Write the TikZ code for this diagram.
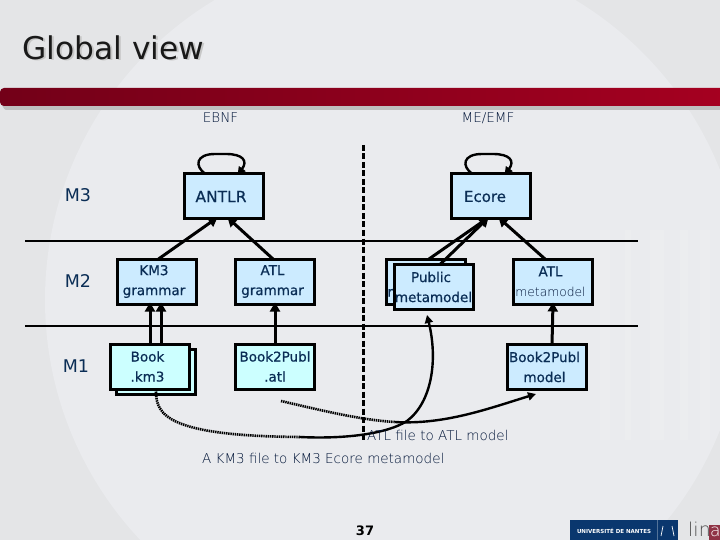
\documentclass[tikz,border=0pt]{standalone}
\usepackage{fontspec}
\setmainfont{DejaVu Sans}
\newfontfamily\thinfont{DejaVu Sans ExtraLight}
\newfontfamily\boxfont[FakeBold=0.6]{DejaVu Sans}
\usetikzlibrary{arrows.meta,calc}
\newcommand{\lb}[1]{#1\kern5pt}
\definecolor{ink}{RGB}{10,45,85}
\definecolor{thinink}{RGB}{0,20,55}
\definecolor{boxblue}{RGB}{204,235,255}
\definecolor{boxcyan}{RGB}{204,255,255}
\definecolor{bggrey}{RGB}{228,229,231}
\definecolor{globe}{RGB}{234,235,238}
\definecolor{barl}{RGB}{115,0,24}
\definecolor{barr}{RGB}{165,0,32}
\definecolor{navy}{RGB}{10,55,110}
\tikzset{
 x=1pt,y=-1pt,
 mbox/.style={draw=black,line width=3pt,fill=boxblue,minimum width=79pt,minimum height=45pt,inner sep=0pt,outer sep=0pt,align=center,text=ink,font=\boxfont\fontsize{13.5}{20}\selectfont},
 cbox/.style={mbox,fill=boxcyan},
 lvl/.style={text=ink,font=\fontsize{17.5}{20}\selectfont,inner sep=0pt},
 thin/.style={text=thinink,font=\thinfont\fontsize{13.5}{16}\selectfont,inner sep=0pt},
 sep/.style={line width=2.8pt,draw=black},
 arr/.style={line width=3pt,draw=black,-{Triangle[length=9pt,width=10pt]}},
 flow/.style={line width=2.4pt,draw=black},
 flowdot/.style={line width=2.6pt,draw=black,dash pattern=on 1.4pt off 0.8pt},
 tipped/.style={-{Triangle[length=8pt,width=8pt]}}
}
\begin{document}
\begin{tikzpicture}
\useasboundingbox (0,0) rectangle (720,540);
\fill[bggrey] (0,0) rectangle (720,540);
\begin{scope}
\clip (0,0) rectangle (720,540);
\fill[globe] (395,300) circle[radius=350];
\foreach \sx/\sw in {600/10,625/6,650/14,680/8,700/10}{\fill[white,opacity=.1] (\sx,230) rectangle ++(\sw,210);}
\end{scope}
% title
\node[text=black!22,font=\fontsize{31.3}{36}\selectfont,inner sep=0pt] (titleshadow) at (115,49) {Global view};
\node[text=black!90,font=\fontsize{31.3}{36}\selectfont,inner sep=0pt] (title) at (113.5,47.5) {Global view};
% bar
\fill[black!25] (2,92) -- (720,92) -- (720,110) -- (6,110) to[out=180,in=90] (2,106) -- cycle;
\shade[left color=barl,right color=barr,rounded corners=4pt] (0,88) rectangle (724,106);
% footer
\node[text=black,font=\fontsize{13}{15}\bfseries\selectfont,inner sep=0pt] (page) at (365,530.5) {37};
\fill[navy] (570,520) rectangle (678,540);
\node[text=white,font=\fontsize{5.5}{6}\bfseries\selectfont,inner sep=0pt] (univ) at (614,531) {UNIVERSITÉ DE NANTES};
\draw[white,opacity=.3,line width=.5pt] (657,520) -- (657,540);
\draw[white,line width=.7pt] (663,526) -- (661,536) (672,526) -- (674,536);
\fill[barl!80!white] (709,525) rectangle (720,540);
\node[text=black!70,font=\thinfont\fontsize{19}{24}\selectfont,inner sep=0pt,anchor=base west] (lina) at (688,536) {lin};
\node[text=white,font=\thinfont\fontsize{17}{20}\selectfont,inner sep=0pt,anchor=base west] (linaa) at (710,536) {a};
% separators
\coordinate (sepAl) at (25,241); \coordinate (sepAr) at (638,241);
\coordinate (sepBl) at (25,326); \coordinate (sepBr) at (638,326);
\coordinate (dashT) at (363.5,145); \coordinate (dashB) at (363.5,440);
\draw[sep] (sepAl) -- (sepAr);
\draw[sep] (sepBl) -- (sepBr);
\draw[line width=3pt,dash pattern=on 6pt off 2.5pt] (dashT) -- (dashB);
% top labels
\node[thin] (ebnf) at (220.5,118) {EBNF};
\node[thin] (meemf) at (488,118) {ME/EMF};
\node[lvl] (m3) at (78,195) {M3};
\node[lvl] (m2) at (78,281) {M2};
\node[lvl] (m1) at (76,366) {M1};
% boxes
\node[mbox] (antlr) at (223.5,196.5) {\raisebox{-2pt}{\lb{\fontsize{15.5}{20}\selectfont ANTLR}}};
\node[mbox] (ecore) at (490.5,196.5) {\raisebox{-2pt}{\lb{\kern-3pt\fontsize{15}{20}\selectfont Ecore\kern3pt}}};
\node[mbox] (km3g) at (156.5,281.5) {\lb{KM3}\\\lb{grammar}};
\node[mbox] (atlg) at (275,281.5) {\lb{ATL}\\\lb{grammar}};
\node[mbox] (pubback) at (426,281.5) {Public\\metamodel};
\node[mbox] (pubfront) at (433.5,287) {\lb{Public}\\metamodel};
\node[mbox] (atlmm) at (553,281.5) {\lb{ATL}\\\lb{\thinfont\color{thinink}\fontsize{12.3}{20}\selectfont metamodel}};
\node[cbox,text opacity=0] (bookback) at (156,372) {};
\node[cbox] (book) at (150,366.5) {\lb{Book}\\\lb{.km3}};
\node[cbox] (b2pa) at (275,366.5) {Book2Publ\\.atl};
\node[mbox] (b2pm) at (547,367) {\lb{Book2Publ}\\\lb{model}};
% self loops
\draw[line width=2.4pt,tipped] ([xshift=-18pt]antlr.north) .. controls (194,166) and (196,154) .. (215,154) -- (226,154) .. controls (243,154) and (248,161) .. ([xshift=14pt,yshift=-1pt]antlr.north);
\draw[line width=2.4pt,tipped] ([xshift=-18pt]ecore.north) .. controls (461,166) and (463,154) .. (482,154) -- (493,154) .. controls (510,154) and (515,161) .. ([xshift=14pt,yshift=-1pt]ecore.north);
% instance arrows
\draw[arr] ([xshift=2pt]km3g.north) -- ([xshift=-6pt,yshift=1.5pt]antlr.south);
\draw[arr] ([xshift=-2pt]atlg.north) -- ([xshift=4pt,yshift=1.5pt]antlr.south);
\draw[arr] ([xshift=3pt]pubback.north) -- ([xshift=-2pt,yshift=1.5pt]ecore.south);
\draw[arr] ([xshift=6.5pt]pubfront.north) -- ([xshift=-2pt,yshift=1.5pt]ecore.south);
\draw[arr] ([xshift=-8pt]atlmm.north) -- ([xshift=8pt,yshift=1.5pt]ecore.south);
\draw[arr] ([xshift=0pt]book.north) -- ([xshift=-6.5pt,yshift=1.5pt]km3g.south);
\draw[arr] ([xshift=11pt]book.north) -- ([xshift=4.5pt,yshift=1.5pt]km3g.south);
\draw[arr] (b2pa.north) -- ([yshift=1.5pt]atlg.south);
\draw[arr] ([xshift=5pt]b2pm.north) -- ([yshift=1.5pt]atlmm.south);
% transformation curves
\coordinate (midA) at (300,437);
\coordinate (endA) at (427,315);
\coordinate (startB) at (281,401);
\coordinate (midB) at (395,422);
\coordinate (endB) at (536,394);
\draw[flowdot] ([yshift=3pt]bookback.south) .. controls (156,415) and (168,436) .. (midA);
\draw[flow,tipped] (midA) .. controls (340,439) and (385,435) .. (407,421) .. controls (432,402) and (438,360) .. (endA);
\draw[flowdot] (startB) .. controls (320,410) and (360,420) .. (midB);
\draw[flow,tipped] (midB) .. controls (445,425) and (490,408) .. (endB);
% captions
\node[thin,anchor=west] (capA) at (367,435) {ATL file to ATL model};
\node[thin,anchor=west] (capB) at (202,458) {A KM3 file to KM3 Ecore metamodel};
\end{tikzpicture}
\end{document}
